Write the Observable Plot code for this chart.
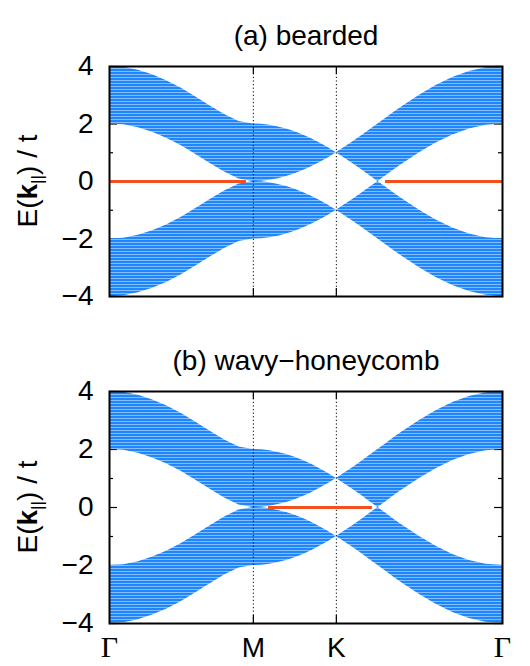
<!DOCTYPE html>
<html><head><meta charset="utf-8">
<script src="https://cdn.jsdelivr.net/npm/d3@7"></script>
<script src="https://cdn.jsdelivr.net/npm/@observablehq/plot@0.6"></script>
<style>
body{margin:0;background:#fff;font-family:"Liberation Sans",Arial,sans-serif;}
#wrap{position:relative;width:530px;height:666px;overflow:hidden;}
.panel{position:absolute;left:0;}
.ylab{position:absolute;left:30px;transform:translate(-50%,-50%) rotate(-90deg);white-space:nowrap;font-size:28px;color:#000;line-height:1;}
.ylab sub{font-size:62%;vertical-align:-0.35em;font-weight:normal;}
</style></head><body><div id="wrap"></div>
<script>
// momentum path positions (Γ=0, M, K, Γ) and sampled k values
const pathTickPos = [0, 1, 1.577, 2.732];
const pathTickLabels = ["Γ", "M", "K", "Γ"];
const kPos = [0,0.1,0.2,0.3,0.4,0.5,0.6,0.7,0.8,0.9,1.0,
  1.058,1.115,1.173,1.231,1.289,1.346,1.404,1.462,1.519,1.577,
  1.635,1.693,1.750,1.808,1.866,1.924,1.981,2.039,2.155,2.270,2.386,2.501,2.617,2.732];
// envelope of the projected bulk bands (upper and lower continua)
const upperTop = [4,3.97,3.87,3.71,3.50,3.24,2.94,2.63,2.33,2.09,2.00,
  1.99,1.96,1.90,1.83,1.73,1.62,1.49,1.34,1.18,1.00,
  1.19,1.38,1.58,1.79,2.00,2.21,2.42,2.62,3.00,3.34,3.62,3.83,3.96,4.00];
const upperBottom = [2,1.97,1.87,1.71,1.50,1.24,0.94,0.63,0.33,0.09,0.00,
  0.01,0.04,0.10,0.17,0.27,0.38,0.51,0.66,0.82,1.00,
  0.81,0.62,0.42,0.21,0.00,0.21,0.42,0.62,1.00,1.34,1.62,1.83,1.96,2.00];
const lowerTop = [-2,-1.97,-1.87,-1.71,-1.50,-1.24,-0.94,-0.63,-0.33,-0.09,0.00,
  -0.01,-0.04,-0.10,-0.17,-0.27,-0.38,-0.51,-0.66,-0.82,-1.00,
  -0.81,-0.62,-0.42,-0.21,0.00,-0.21,-0.42,-0.62,-1.00,-1.34,-1.62,-1.83,-1.96,-2.00];
const lowerBottom = [-4,-3.97,-3.87,-3.71,-3.50,-3.24,-2.94,-2.63,-2.33,-2.09,-2.00,
  -1.99,-1.96,-1.90,-1.83,-1.73,-1.62,-1.49,-1.34,-1.18,-1.00,
  -1.19,-1.38,-1.58,-1.79,-2.00,-2.21,-2.42,-2.62,-3.00,-3.34,-3.62,-3.83,-3.96,-4.00];
// zero-energy edge states (k ranges)
const edgeAFrom = [0, 1.919], edgeATo = [0.952, 2.732];
const edgeBFrom = [1.105], edgeBTo = [1.828];
const edgeEnergy = 0;
const yMajor = [-4,-2,0,2,4];
const yMajorLabels = ["−4","−2","0","2","4"];
const yMinor = [-3,-1,1,3];
const titles = ["(a) bearded", "(b) wavy−honeycomb"];

const BLUE = "#1f86fb", RED = "#f2501c";
const W = 530, ML = 109, MR = 28;
const FW = W - ML - MR;

const bands = [];
kPos.forEach((k,i)=>{
  bands.push({k, y1: upperBottom[i], y2: upperTop[i], band: "upper"});
  bands.push({k, y1: lowerBottom[i], y2: lowerTop[i], band: "lower"});
});

function panel({height, mt, mb, title, eFrom, eTo, showX, pid}) {
  const FH = height - mt - mb;
  const segs = eFrom.map((f,i)=>({from: f, to: eTo[i], e: edgeEnergy}));
  const marks = [
    Plot.tickY(yMajor, {y: d=>d, insetRight: FW-8, stroke:"#000", strokeWidth:1.2}),
    Plot.tickY(yMajor, {y: d=>d, insetLeft: FW-8, stroke:"#000", strokeWidth:1.2}),
    Plot.tickY(yMinor, {y: d=>d, insetRight: FW-4, stroke:"#000", strokeWidth:1.2}),
    Plot.tickY(yMinor, {y: d=>d, insetLeft: FW-4, stroke:"#000", strokeWidth:1.2}),
    Plot.tickX(pathTickPos.slice(1,3), {x: d=>d, insetBottom: FH-8, stroke:"#000", strokeWidth:1.2}),
    Plot.tickX(pathTickPos.slice(1,3), {x: d=>d, insetTop: FH-8, stroke:"#000", strokeWidth:1.2}),
    Plot.areaY(bands, {x:"k", y1:"y1", y2:"y2", z:"band", fill: `url(#stripes${pid})`, curve:"linear"}),
    Plot.ruleX(pathTickPos.slice(1,3), {x: d=>d, stroke:"#000", strokeWidth:1, strokeDasharray:"1.2,2.4"}),
    Plot.ruleY(segs, {x1:"from", x2:"to", y:"e", stroke: RED, strokeWidth: 3}),
    Plot.frame({stroke:"#000", strokeWidth: 2}),
    Plot.axisY(yMajor, {tickSize: 0, tickPadding: 16, fontSize: 28, tickFormat: (d)=>yMajorLabels[yMajor.indexOf(d)]}),
    Plot.text([title], {frameAnchor:"top", dy:-41, fontSize: 28})
  ];
  if (showX) {
    const idx = pathTickPos.map((_,i)=>i);
    marks.push(Plot.text(idx.filter(i=>pathTickLabels[i]==="Γ"), {x: i=>pathTickPos[i], text: i=>pathTickLabels[i], frameAnchor:"bottom", dy: 33, fontSize: 30, fontFamily:"Liberation Serif"}));
    marks.push(Plot.text(idx.filter(i=>pathTickLabels[i]!=="Γ"), {x: i=>pathTickPos[i], text: i=>pathTickLabels[i], frameAnchor:"bottom", dy: 33, fontSize: 28}));
  }
  const svg = Plot.plot({
    width: W, height, marginLeft: ML, marginRight: MR, marginTop: mt, marginBottom: mb,
    style: {fontFamily: "Liberation Sans, Arial, sans-serif", color:"#000", background:"transparent", overflow:"visible"},
    x: {domain: [pathTickPos[0], pathTickPos[3]], axis: null},
    y: {domain: [-4, 4], axis: null},
    marks
  });
  // subband texture: fine light stripes over the band colour
  const defs = d3.select(svg).insert("defs", ":first-child");
  const pat = defs.append("pattern").attr("id", "stripes" + pid)
    .attr("patternUnits", "userSpaceOnUse").attr("width", 6).attr("height", 3);
  pat.append("rect").attr("width", 6).attr("height", 3).attr("fill", BLUE);
  pat.append("rect").attr("y", 2).attr("width", 6).attr("height", 1).attr("fill", "#fff").attr("fill-opacity", 0.45);
  return svg;
}

const wrap = document.getElementById("wrap");
const pA = panel({height: 320, mt: 66, mb: 24, title: titles[0], eFrom: edgeAFrom, eTo: edgeATo, showX:false, pid:"A"});
pA.classList.add("panel"); pA.style.top = "0px";
const pB = panel({height: 346, mt: 71, mb: 43, title: titles[1], eFrom: edgeBFrom, eTo: edgeBTo, showX:true, pid:"B"});
pB.classList.add("panel"); pB.style.top = "320px";
wrap.appendChild(pA); wrap.appendChild(pB);
for (const cy of [181, 507]) {
  const d = document.createElement("div");
  d.className = "ylab";
  d.style.top = cy + "px";
  d.innerHTML = 'E(<b>k</b><sub>||</sub>) / t';
  wrap.appendChild(d);
}
</script></body></html>
